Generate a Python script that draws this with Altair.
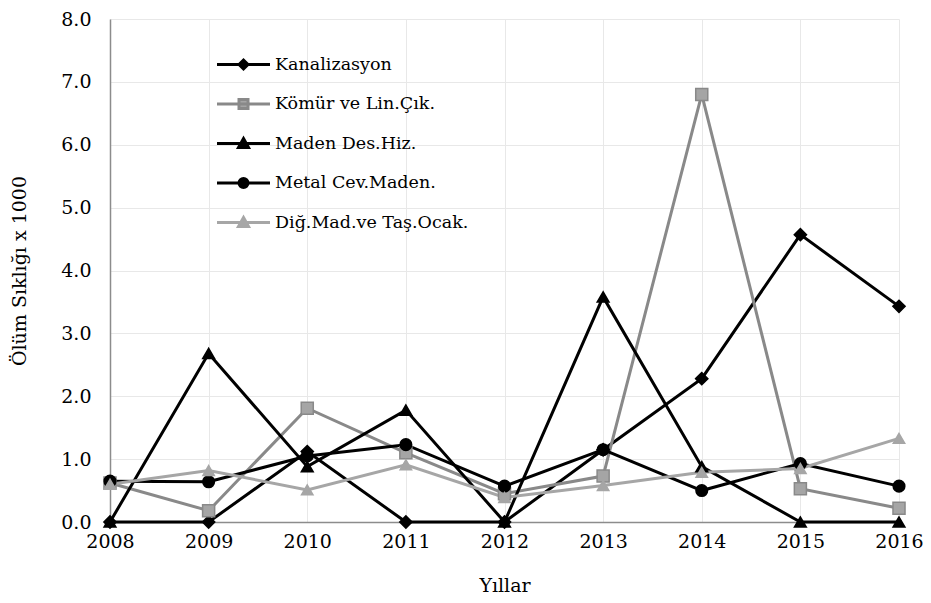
import altair as alt
import pandas as pd

years = [2008, 2009, 2010, 2011, 2012, 2013, 2014, 2015, 2016]
series = ["Kanalizasyon", "Kömür ve Lin.Çık.", "Maden Des.Hiz.", "Metal Cev.Maden.", "Diğ.Mad.ve Taş.Ocak."]
kanalizasyon = [0.0, 0.0, 1.12, 0.0, 0.0, 1.15, 2.28, 4.57, 3.43]
komur = [0.62, 0.18, 1.81, 1.10, 0.45, 0.73, 6.80, 0.53, 0.22]
maden = [0.0, 2.68, 0.88, 1.78, 0.0, 3.58, 0.88, 0.0, 0.0]
metal = [0.65, 0.64, 1.05, 1.23, 0.57, 1.15, 0.50, 0.93, 0.57]
dig = [0.60, 0.82, 0.51, 0.91, 0.39, 0.58, 0.79, 0.85, 1.33]

y_ticks = [0, 1, 2, 3, 4, 5, 6, 7, 8]

line_colors = ["#000000", "#898989", "#000000", "#000000", "#a6a6a6"]
fill_colors = ["#000000", "#a5a5a5", "#000000", "#000000", "#a6a6a6"]
marker_shapes = ["diamond", "square", "triangle-up", "circle", "triangle-up"]
marker_sizes = [150, 130, 190, 140, 190]

# legend symbols: a line segment with the marker in the middle (unit = sqrt(400)/2 = 10px)
L = "M-2.65,0H2.65"
legend_paths = [
    L + "M-0.45,0L0,-0.45L0.45,0L0,0.45Z",
    L + "M-0.45,-0.45H0.45V0.45H-0.45Z",
    L + "M0,-0.5L0.5,0.4H-0.5Z",
    L + "M-0.45,0A0.45,0.45,0,1,1,0.45,0A0.45,0.45,0,1,1,-0.45,0Z",
    L + "M0,-0.5L0.5,0.4H-0.5Z",
]

rows = []
for name, vals in zip(series, [kanalizasyon, komur, maden, metal, dig]):
    for yr, v in zip(years, vals):
        rows.append({"Yıl": yr, "Değer": v, "Seri": name})
df = pd.DataFrame(rows)

FONT = "DejaVu Serif"
W, H = 789, 503

x_enc = alt.X(
    "Yıl:Q",
    scale=alt.Scale(domain=[2008, 2016], nice=False, zero=False),
    axis=alt.Axis(
        values=years, format="d", title="Yıllar", ticks=False, labelPadding=10,
        labelFlush=False, labelOverlap=False,
        grid=True, gridColor="#e8e8e8", domainColor="#8c8c8c",
        titleY=63, titleBaseline="middle",
    ),
)
y_enc = alt.Y(
    "Değer:Q",
    scale=alt.Scale(domain=[0, 8], nice=False),
    axis=alt.Axis(
        values=y_ticks, format=".1f", title="Ölüm Sıklığı x 1000", ticks=False,
        labelPadding=19, labelFlush=False, labelOverlap=False,
        grid=True, gridColor="#e8e8e8", domainColor="#8c8c8c",
        titleX=-91, titleBaseline="middle",
    ),
)

stroke_scale = alt.Scale(domain=series, range=line_colors)
fill_scale = alt.Scale(domain=series, range=fill_colors)

base = alt.Chart(df)

lines = base.mark_line(strokeWidth=3).encode(
    x=x_enc, y=y_enc,
    stroke=alt.Stroke("Seri:N", scale=stroke_scale, legend=None),
    order=alt.Order("Yıl:Q"),
)

points = base.mark_point(filled=True, opacity=1, strokeWidth=1.5).encode(
    x=x_enc, y=y_enc,
    shape=alt.Shape("Seri:N", scale=alt.Scale(domain=series, range=marker_shapes), legend=None),
    fill=alt.Fill("Seri:N", scale=fill_scale, legend=None),
    stroke=alt.Stroke("Seri:N", scale=stroke_scale, legend=None),
    size=alt.Size("Seri:N", scale=alt.Scale(domain=series, range=marker_sizes), legend=None),
)

legend_layer = base.transform_filter("false").mark_point(
    filled=True, opacity=1, size=400, strokeWidth=3
).encode(
    x=x_enc, y=y_enc,
    shape=alt.Shape("Seri:N", scale=alt.Scale(domain=series, range=legend_paths), legend=alt.Legend(title=None)),
    fill=alt.Fill("Seri:N", scale=fill_scale, legend=alt.Legend(title=None)),
    stroke=alt.Stroke("Seri:N", scale=stroke_scale, legend=alt.Legend(title=None)),
)

chart = (
    alt.layer(lines, points, legend_layer)
    .resolve_scale(shape="independent", fill="independent", stroke="independent", size="independent")
    .properties(
        width=W, height=H,
        autosize=alt.AutoSizeParams(type="none"),
        padding={"left": 102, "top": 11, "right": 24, "bottom": 77},
    )
    .configure_view(stroke=None)
    .configure_axis(
        labelFont=FONT, titleFont=FONT, labelFontSize=19, titleFontSize=19,
        labelColor="#000000", titleColor="#000000", titleFontWeight="normal",
        gridWidth=1, domainWidth=1.5,
    )
    .configure_legend(
        orient="none", legendX=122, legendY=34, padding=0,
        labelFont=FONT, labelFontSize=17.5, labelColor="#000000",
        symbolSize=400, symbolStrokeWidth=3, labelOffset=20, rowPadding=17.5,
        labelLimit=400,
    )
)

chart.save("out.html", embed_options={"renderer": "svg", "actions": False})
